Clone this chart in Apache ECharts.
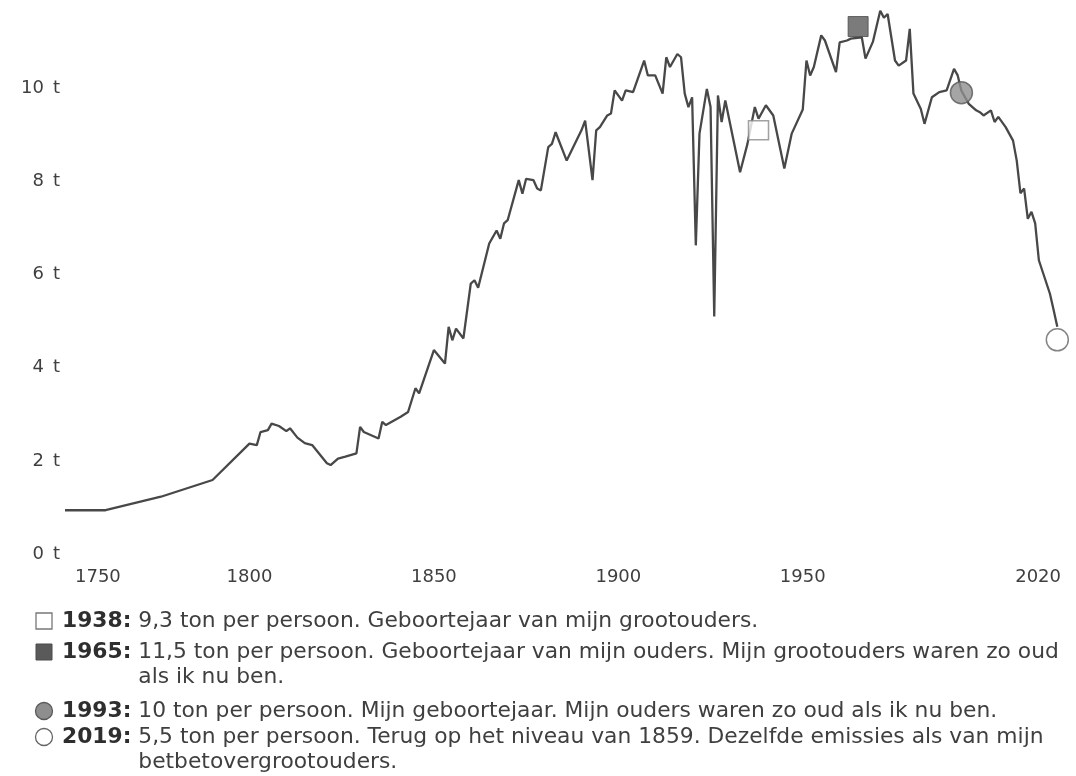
<!DOCTYPE html>
<html>
<head>
<meta charset="utf-8">
<script src="https://cdn.jsdelivr.net/npm/echarts@6/dist/echarts.min.js"></script>
<style>
html,body{margin:0;padding:0;background:#fff;}
#chart{width:1076px;height:776px;}
</style>
</head>
<body>
<div id="chart"></div>
<script>
// ---- DATA ----
const years = [1750,1761,1776,1790,1800,1802,1803,1805,1806,1808,1810,1811,1813,1815,1817,1821,1822,1824,1826,1829,1830,1831,1835,1836,1837,1841,1843,1845,1846,1850,1853,1854,1855,1856,1858,1860,1861,1862,1865,1867,1868,1869,1870,1873,1874,1875,1877,1878,1879,1881,1882,1883,1886,1890,1891,1893,1894,1895,1897,1898,1899,1901,1902,1904,1907,1908,1910,1912,1913,1914,1916,1917,1918,1919,1920,1921,1922,1924,1925,1926,1927,1928,1929,1933,1935,1937,1938,1940,1942,1945,1947,1950,1951,1952,1953,1955,1956,1959,1960,1962,1963,1966,1967,1969,1971,1972,1973,1975,1976,1978,1979,1980,1982,1983,1985,1987,1989,1991,1992,1993,1995,1997,1998,1999,2001,2002,2003,2005,2007,2008,2009,2010,2011,2012,2013,2014,2017,2018,2019];
const tonsPerPerson = [0.94,0.94,1.23,1.59,2.37,2.34,2.62,2.66,2.80,2.75,2.64,2.70,2.50,2.38,2.34,1.95,1.91,2.05,2.09,2.16,2.73,2.62,2.48,2.84,2.77,2.95,3.05,3.56,3.45,4.38,4.09,4.88,4.59,4.84,4.63,5.81,5.88,5.72,6.67,6.95,6.77,7.10,7.17,8.03,7.74,8.06,8.03,7.85,7.81,8.74,8.81,9.06,8.45,9.10,9.31,8.03,9.10,9.17,9.42,9.46,9.96,9.74,9.96,9.92,10.60,10.28,10.28,9.89,10.67,10.46,10.74,10.67,9.89,9.60,9.81,6.63,9.03,9.99,9.60,5.10,9.85,9.28,9.74,8.20,8.81,9.60,9.35,9.64,9.42,8.28,9.03,9.55,10.60,10.28,10.46,11.14,11.03,10.35,10.99,11.03,11.07,11.10,10.64,11.00,11.67,11.52,11.60,10.60,10.49,10.60,11.28,9.89,9.56,9.24,9.81,9.92,9.96,10.42,10.28,9.95,9.67,9.53,9.49,9.42,9.53,9.28,9.39,9.17,8.88,8.45,7.75,7.85,7.20,7.35,7.10,6.31,5.59,5.24,4.88];

const markerYears  = [1938, 1965, 1993, 2019];
const markerValues = [9.10, 11.33, 9.91, 4.60];

const xTickYears = [1750, 1800, 1850, 1900, 1950, 2020];
const yTickValues = [0, 2, 4, 6, 8, 10];

const legendLabels = ['1938:', '1965:', '1993:', '2019:'];
const legendTexts = [
  ['9,3 ton per persoon. Geboortejaar van mijn grootouders.'],
  ['11,5 ton per persoon. Geboortejaar van mijn ouders. Mijn grootouders waren zo oud', 'als ik nu ben.'],
  ['10 ton per persoon. Mijn geboortejaar. Mijn ouders waren zo oud als ik nu ben.'],
  ['5,5 ton per persoon. Terug op het niveau van 1859. Dezelfde emissies als van mijn', 'betbetovergrootouders.']
];

// ---- STYLES ----
const FONT = 'DejaVu Sans';
const TXT = '#3f3f3f';
const LEG_SIZE = 21.8;
const AX_SIZE = 18;
const LABEL_X = 62;
const markerStyles = [
  {symbol:'rect', size:[20,19], color:'#ffffff', border:'#8a8a8a', bw:1.5},
  {symbol:'rect', size:[20,20], color:'#5a5a5a', border:'#4a4a4a', bw:1},
  {symbol:'circle', size:22, color:'#8e8e8e', border:'#5a5a5a', bw:1.5},
  {symbol:'circle', size:22, color:'#ffffff', border:'#666666', bw:1.5}
];

const lineData = years.map((y, i) => [y, tonsPerPerson[i]]);
const markerData = markerYears.map((y, i) => ({
  value: [y, markerValues[i]],
  symbol: markerStyles[i].symbol,
  symbolSize: markerStyles[i].size,
  itemStyle: {color: markerStyles[i].color, borderColor: markerStyles[i].border, borderWidth: markerStyles[i].bw}
}));

// measure hanging indent
const mctx = document.createElement('canvas').getContext('2d');
function measure(txt, bold) {
  mctx.font = (bold ? 'bold ' : '') + LEG_SIZE + 'px "' + FONT + '"';
  return mctx.measureText(txt).width;
}

// legend graphics
const rowY = [621, 652, 711, 737];
const lineGap = 25;
const graphics = [];
const legendShapes = [
  {type:'rect', shape:{x:36, y:613, width:16, height:16}, style:{fill:'#fff', stroke:'#777', lineWidth:1.3}},
  {type:'rect', shape:{x:36, y:644, width:16, height:16}, style:{fill:'#5a5a5a', stroke:'#4a4a4a', lineWidth:1}},
  {type:'circle', shape:{cx:44, cy:711, r:8.5}, style:{fill:'#8e8e8e', stroke:'#5a5a5a', lineWidth:1.3}},
  {type:'circle', shape:{cx:44, cy:737, r:8.5}, style:{fill:'#fff', stroke:'#666', lineWidth:1.3}}
];
legendShapes.forEach(s => graphics.push(s));
legendLabels.forEach((lab, i) => {
  graphics.push({
    type:'text', x:LABEL_X, y:rowY[i],
    style:{
      text:'{b|' + lab + '} ' + legendTexts[i][0],
      font: LEG_SIZE + 'px "' + FONT + '"', fill: TXT, verticalAlign:'middle',
      rich:{b:{fontWeight:'bold', fontFamily: FONT, fontSize:LEG_SIZE, fill:'#2e2e2e'}}
    }
  });
  if (legendTexts[i][1]) {
    const indent = LABEL_X + measure(lab, true) + measure(' ', false);
    graphics.push({
      type:'text', x:indent, y:rowY[i] + lineGap,
      style:{text: legendTexts[i][1], font: LEG_SIZE + 'px "' + FONT + '"', fill: TXT, verticalAlign:'middle'}
    });
  }
});

const chart = echarts.init(document.getElementById('chart'), null, {renderer:'canvas'});
chart.setOption({
  backgroundColor:'#ffffff',
  animation:false,
  grid:{left:65, right:15, top:0, bottom:222, containLabel:false},
  xAxis:{
    type:'value', min:1750, max:2020,
    axisLine:{show:false}, axisTick:{show:false}, splitLine:{show:false},
    axisLabel:{
      customValues: xTickYears,
      formatter: v => v === 1750 ? '{p|' + v + '}' : String(v),
      rich:{p:{padding:[0,0,0,10], color: TXT, fontFamily: FONT, fontSize: AX_SIZE}},
      color: TXT, fontFamily: FONT, fontSize: AX_SIZE, margin:14,
      alignMinLabel:'left', alignMaxLabel:'right'
    }
  },
  yAxis:{
    type:'value', min:0, max:11.9,
    axisLine:{show:false}, axisTick:{show:false}, splitLine:{show:false},
    axisLabel:{
      customValues: yTickValues,
      formatter: v => v + '\u2002t',
      color: TXT, fontFamily: FONT, fontSize: AX_SIZE, margin:5
    }
  },
  series:[
    {type:'line', data: lineData, showSymbol:false, smooth:false,
     lineStyle:{color:'#484848', width:2.3}, z:2},
    {type:'scatter', data: markerData, z:3}
  ],
  graphic: graphics
});
</script>
</body>
</html>
